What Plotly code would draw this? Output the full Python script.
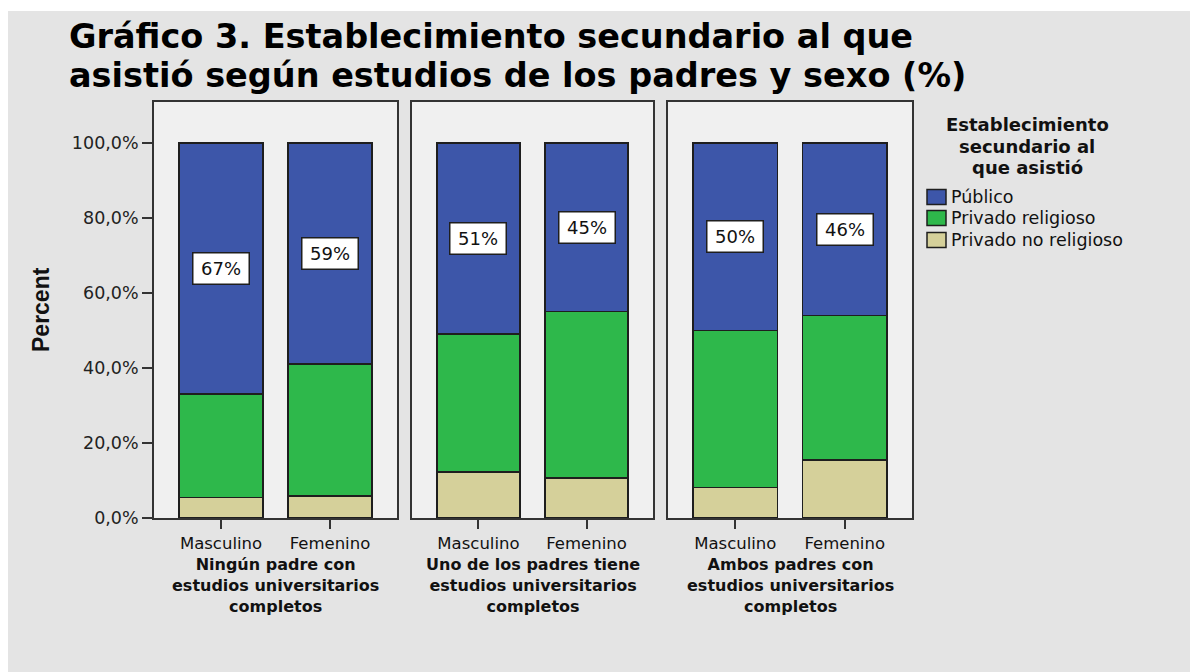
import plotly.graph_objects as go

# ---- data -----------------------------------------------------------------
sexes = ["Masculino", "Femenino"]
group_labels = [
    ["Ningún padre con", "estudios universitarios", "completos"],
    ["Uno de los padres tiene", "estudios universitarios", "completos"],
    ["Ambos padres con", "estudios universitarios", "completos"],
]
series_names = ["Privado no religioso", "Privado religioso", "Público"]
series_colors = ["#d5d09a", "#2eb84b", "#3d56a9"]

# percentages per panel: [Masculino, Femenino]
privado_no_religioso = [[5.5, 5.9], [12.2, 10.7], [8.1, 15.5]]
privado_religioso = [[27.5, 35.1], [36.8, 44.3], [41.9, 38.5]]
publico = [[67, 59], [51, 45], [50, 46]]

y_tickvals = [0, 20, 40, 60, 80, 100]
y_ticktext = ["0,0%", "20,0%", "40,0%", "60,0%", "80,0%", "100,0%"]

title_lines = ["Gráfico 3. Establecimiento secundario al que",
               "asistió según estudios de los padres y sexo (%)"]
legend_title_lines = ["Establecimiento", "secundario al", "que asistió"]

# ---- layout helpers --------------------------------------------------------
W, H = 1190, 672
PAGE_BG = "#e4e4e4"


def px_x(v):
    return v / W


def px_y(v):
    return 1 - v / H


panel_px = [(154, 397), (412, 653), (668, 912)]
plot_top, plot_bottom = 102, 518

series_values = [privado_no_religioso, privado_religioso, publico]
outline = "#1e1e1e"

fig = go.Figure()

for p in range(3):
    xa = "x" if p == 0 else f"x{p + 1}"
    ya = "y" if p == 0 else f"y{p + 1}"
    for s, name in enumerate(series_names):
        fig.add_trace(go.Bar(
            x=sexes,
            y=series_values[s][p],
            name=name,
            showlegend=False,
            width=0.77,
            marker=dict(color=series_colors[s], line=dict(color=outline, width=1.5)),
            xaxis=xa,
            yaxis=ya,
            hoverinfo="skip",
        ))

axis_line = dict(showline=True, mirror=True, linecolor="#333333", linewidth=1.8,
                 showgrid=False, zeroline=False)

layout = dict(
    width=W, height=H, autosize=False,
    margin=dict(l=0, r=0, t=0, b=0),
    paper_bgcolor=PAGE_BG,
    plot_bgcolor="#f0f0f0",
    barmode="stack",
    font=dict(family="DejaVu Sans", color="#111111"),
    showlegend=False,
)

for p, (x0, x1) in enumerate(panel_px):
    suffix = "" if p == 0 else str(p + 1)
    layout[f"xaxis{suffix}"] = dict(
        domain=[px_x(x0), px_x(x1)],
        anchor=f"y{suffix}",
        type="category",
        range=[-0.615, 1.615],
        ticks="outside", ticklen=9, tickwidth=1.5, tickcolor="#333333",
        tickfont=dict(family="DejaVu Sans", size=16.5, color="#111111"),
        automargin=False,
        fixedrange=True,
        **axis_line,
    )
    ydict = dict(
        domain=[px_y(plot_bottom), px_y(plot_top)],
        anchor=f"x{suffix}",
        range=[0, 110.9],
        automargin=False,
        fixedrange=True,
        **axis_line,
    )
    if p == 0:
        ydict.update(
            tickvals=y_tickvals, ticktext=y_ticktext,
            ticks="outside", ticklen=10, tickwidth=1.5, tickcolor="#333333",
            tickfont=dict(family="DejaVu Sans", size=17.5, color="#222222"),
        )
    else:
        ydict.update(showticklabels=False, ticks="")
    layout[f"yaxis{suffix}"] = ydict

fig.update_layout(**layout)

annotations = []
shapes = []

# value labels in the middle of the "Público" segment
for p in range(3):
    xa = "x" if p == 0 else f"x{p + 1}"
    ya = "y" if p == 0 else f"y{p + 1}"
    for i, sex in enumerate(sexes):
        base = privado_no_religioso[p][i] + privado_religioso[p][i]
        val = publico[p][i]
        annotations.append(dict(
            x=sex, y=base + val / 2, xref=xa, yref=ya,
            text=f"{val:.0f}%", showarrow=False,
            font=dict(family="DejaVu Sans", size=18, color="#111111"),
            bgcolor="#ffffff", bordercolor=outline, borderwidth=1.5,
            borderpad=1, width=53, height=28,
        ))

# group captions under each panel (three centred lines)
for p, (x0, x1) in enumerate(panel_px):
    cx = (x0 + x1) / 2
    annotations.append(dict(
        x=px_x(cx), y=px_y(585), xref="paper", yref="paper",
        xanchor="center", yanchor="middle", align="center", showarrow=False,
        text="<b>" + "<br>".join(group_labels[p]) + "</b>",
        font=dict(family="DejaVu Sans", size=16, color="#111111"),
    ))

# y-axis caption
annotations.append(dict(
    x=px_x(41), y=px_y(310), xref="paper", yref="paper",
    xanchor="center", yanchor="middle", showarrow=False, textangle=-90,
    text="<b>Percent</b>",
    font=dict(family="Liberation Sans", size=23, color="#111111"),
))

# chart title, two lines
for line, cy in zip(title_lines, [36.5, 75.5]):
    annotations.append(dict(
        x=px_x(67), y=px_y(cy), xref="paper", yref="paper",
        xanchor="left", yanchor="middle", align="left", showarrow=False,
        text=f"<b>{line}</b>",
        font=dict(family="DejaVu Sans", size=33.5, color="#000000"),
    ))

# legend: centred title and colour swatches
for line, cy in zip(legend_title_lines, [124.5, 146, 167.5]):
    annotations.append(dict(
        x=px_x(1027), y=px_y(cy), xref="paper", yref="paper",
        xanchor="center", yanchor="middle", showarrow=False,
        text=f"<b>{line}</b>",
        font=dict(family="DejaVu Sans", size=18, color="#111111"),
    ))

legend_rows = [197, 218, 240]
for row, s in zip(legend_rows, reversed(range(len(series_names)))):
    shapes.append(dict(
        type="rect", xref="paper", yref="paper",
        x0=px_x(927), x1=px_x(946), y0=px_y(row + 7.5), y1=px_y(row - 7.5),
        fillcolor=series_colors[s], line=dict(color=outline, width=1.5),
    ))
    annotations.append(dict(
        x=px_x(949), y=px_y(row), xref="paper", yref="paper",
        xanchor="left", yanchor="middle", showarrow=False,
        text=series_names[s],
        font=dict(family="DejaVu Sans", size=17.5, color="#111111"),
    ))

# white frame strips along the top and left edges
shapes += [
    dict(type="rect", xref="paper", yref="paper", x0=0, x1=1,
         y0=px_y(11), y1=1, fillcolor="#ffffff", line=dict(width=0), layer="below"),
    dict(type="rect", xref="paper", yref="paper", x0=0, x1=px_x(8),
         y0=0, y1=1, fillcolor="#ffffff", line=dict(width=0), layer="below"),
]

fig.update_layout(annotations=annotations, shapes=shapes)

# keep the page exactly the size of the figure (no margins, no scrollbars)
page_fit = (
    "var st = document.createElement('style');"
    "st.textContent = 'html, body' + String.fromCharCode(123) +"
    " 'margin:0;padding:0;overflow:hidden;width:1190px;height:672px;"
    "background:" + PAGE_BG + ";' +"
    " String.fromCharCode(125);"
    "document.head.appendChild(st);"
)

fig.write_html("out.html", config={"displayModeBar": False}, post_script=page_fit)
